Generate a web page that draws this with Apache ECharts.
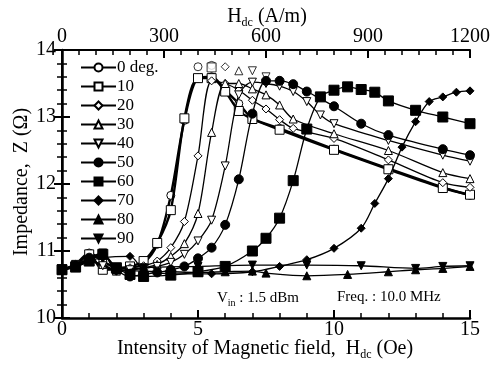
<!DOCTYPE html>
<html>
<head>
<meta charset="utf-8">
<script src="https://cdn.jsdelivr.net/npm/echarts@6/dist/echarts.min.js"></script>
<style>
  html, body { margin: 0; padding: 0; background: #fff; }
  #chart { width: 493px; height: 367px; }
</style>
</head>
<body>
<div id="chart"></div>
<script>
// impedance Z (ohm) vs Hdc (Oe), one array per angle (points on the fitted curve)
const deg0 = [[0,10.72],[0.5,10.8],[1,10.97],[1.5,10.85],[2,10.75],[2.5,10.75],[3,10.82],[3.5,11.1],[4,11.83],[4.5,12.95],[5,13.58],[5.5,13.6],[6,13.4],[6.5,13.2],[7,12.98],[8,12.83],[10,12.52],[12,12.23],[14,11.95],[15,11.83]];
const deg10 = [[0,10.72],[0.5,10.78],[1,10.95],[1.5,10.72],[2,10.73],[2.5,10.77],[3,10.85],[3.5,11.12],[4,11.61],[4.5,12.98],[5,13.58],[5.5,13.58],[6,13.38],[6.5,13.09],[7,12.97],[8,12.81],[10,12.51],[12,12.22],[14,11.94],[15,11.84]];
const deg20 = [[0,10.72],[0.5,10.8],[1,10.85],[1.5,10.8],[2,10.72],[2.5,10.75],[3,10.78],[3.5,10.85],[4,11.05],[4.5,11.44],[5,12.42],[5.5,13.54],[6,13.5],[6.5,13.4],[7,13.25],[7.5,13.12],[8,12.96],[8.5,12.83],[10,12.68],[12,12.36],[14,12.02],[15,11.95]];
const deg30 = [[0,10.72],[0.5,10.78],[1,10.85],[1.5,10.8],[2,10.7],[2.5,10.72],[3,10.75],[3.5,10.8],[4,10.92],[4.5,11.11],[5,11.56],[5.5,12.77],[6,13.5],[6.5,13.5],[7,13.42],[7.5,13.33],[8,13.18],[8.5,12.97],[10,12.75],[12,12.5],[14,12.17],[15,12.08]];
const deg40 = [[0,10.72],[0.5,10.8],[1,10.85],[1.5,10.78],[2,10.7],[2.5,10.72],[3,10.74],[3.5,10.77],[4,10.83],[4.5,10.95],[5,11.15],[5.5,11.46],[6,12.27],[6.5,13.33],[7,13.52],[7.5,13.5],[8,13.46],[8.5,13.38],[9,13.23],[9.5,13.03],[10,12.9],[12,12.65],[14,12.43],[15,12.34]];
const deg50 = [[0,10.72],[0.5,10.78],[1,10.9],[1.5,10.95],[2,10.72],[2.5,10.62],[3,10.65],[3.5,10.68],[4,10.72],[4.5,10.77],[5,10.89],[5.5,11.05],[6,11.39],[6.5,12.07],[7,13.05],[7.5,13.54],[8,13.54],[8.5,13.49],[9,13.38],[10,13.16],[11,12.9],[12,12.73],[14,12.52],[15,12.43]];
const deg60 = [[0,10.72],[0.5,10.76],[1,10.85],[1.5,10.95],[2,10.75],[2.5,10.65],[3,10.62],[4,10.64],[5,10.69],[6,10.77],[7,11.0],[7.5,11.19],[8,11.49],[8.5,12.05],[9,12.82],[9.5,13.3],[10,13.4],[10.5,13.45],[11,13.41],[11.5,13.37],[12,13.24],[13,13.1],[14,13.0],[15,12.9]];
const deg70 = [[0,10.72],[0.5,10.76],[1,10.85],[1.5,10.9],[2.5,10.92],[3,10.72],[4,10.66],[5.5,10.66],[7,10.69],[8,10.77],[9,10.87],[10,11.04],[11,11.34],[11.5,11.71],[12,12.08],[12.5,12.55],[13,12.93],[13.5,13.23],[14,13.3],[14.5,13.37],[15,13.39]];
const deg80 = [[0,10.72],[0.5,10.78],[1,10.85],[1.5,10.97],[2,10.72],[3,10.7],[4,10.69],[5,10.68],[6,10.69],[7,10.7],[7.5,10.67],[9,10.63],[10.5,10.65],[12,10.69],[13,10.72],[14,10.74],[15,10.77]];
const deg90 = [[0,10.72],[0.5,10.78],[1.5,10.97],[2,10.7],[3,10.75],[5,10.77],[7,10.79],[9,10.79],[11,10.78],[13,10.74],[14,10.77],[15,10.78]];

// measured peak points that sit above the fitted curves
const peak0 = [[5,13.75],[5.5,13.77]];
const peak10 = [[5.5,13.74]];
const peak20 = [[6,13.75]];
const peak30 = [[6.5,13.69]];
const peak40 = [[7,13.69],[7.5,13.6]];

const seriesNames = ['0 deg.', '10', '20', '30', '40', '50', '60', '70', '80', '90'];
const seriesData = [deg0, deg10, deg20, deg30, deg40, deg50, deg60, deg70, deg80, deg90];
const peakData = [peak0, peak10, peak20, peak30, peak40];
const symbols = ['circle', 'rect', 'diamond', 'triangle', 'triangle', 'circle', 'rect', 'diamond', 'triangle', 'triangle'];
const filled = [false, false, false, false, false, true, true, true, true, true];
const sizes = [8, 9, 8, 8, 8, 9, 10, 8, 8, 8];
const rotations = [0, 0, 0, 0, 180, 0, 0, 0, 0, 180];

const FONT = 'Liberation Serif';

const chart = echarts.init(document.getElementById('chart'));

function markStyle(i) {
  return {
    color: filled[i] ? '#000' : '#fff',
    borderColor: '#000',
    borderWidth: 1,
  };
}

const series = seriesData.map((d, i) => ({
  name: seriesNames[i],
  type: 'line',
  data: d,
  smooth: 0.3,
  symbol: symbols[i],
  symbolSize: sizes[i],
  symbolRotate: rotations[i],
  showAllSymbol: true,
  lineStyle: { color: '#000', width: i < 2 ? 2.4 : 1.3 },
  itemStyle: markStyle(i),
  emphasis: { disabled: true },
  z: 2 + i,
}));

peakData.forEach((d, i) => {
  series.push({
    name: seriesNames[i],
    type: 'scatter',
    data: d,
    symbol: symbols[i],
    symbolSize: sizes[i],
    symbolRotate: rotations[i],
    itemStyle: markStyle(i),
    emphasis: { disabled: true },
    z: 2 + i,
  });
});

const option = {
  animation: false,
  backgroundColor: '#fff',
  grid: { left: 62, right: 22, top: 50, bottom: 49 },
  legend: {
    orient: 'vertical',
    left: 80,
    top: 59,
    padding: 0,
    itemWidth: 35,
    itemHeight: 10,
    itemGap: 2,
    data: seriesNames,
    textStyle: { fontFamily: FONT, fontSize: 17, color: '#000', lineHeight: 16, padding: [0, 0, 0, -4] },
  },
  xAxis: [
    {
      type: 'value',
      min: 0,
      max: 15,
      interval: 5,
      position: 'bottom',
      axisLine: { show: true, lineStyle: { color: '#000', width: 2.5 } },
      axisTick: { show: true, inside: true, length: 8, lineStyle: { color: '#000', width: 2 } },
      minorTick: { show: true, splitNumber: 5, length: 5, lineStyle: { color: '#000', width: 1.5 } },
      axisLabel: { fontFamily: FONT, fontSize: 20, color: '#000', margin: 2 },
      splitLine: { show: false },
    },
    {
      type: 'value',
      min: 0,
      max: 1200,
      interval: 300,
      position: 'top',
      axisLine: { show: true, lineStyle: { color: '#000', width: 2 } },
      axisTick: { show: true, inside: true, length: 8, lineStyle: { color: '#000', width: 2 } },
      minorTick: { show: true, splitNumber: 6, length: 5, lineStyle: { color: '#000', width: 1.5 } },
      axisLabel: { fontFamily: FONT, fontSize: 20, color: '#000', margin: 3, formatter: v => String(v) },
      splitLine: { show: false },
    },
  ],
  yAxis: [
    {
      type: 'value',
      min: 10,
      max: 14,
      interval: 1,
      position: 'left',
      axisLine: { show: true, lineStyle: { color: '#000', width: 2.5 } },
      axisTick: { show: true, inside: true, length: 8, lineStyle: { color: '#000', width: 2 } },
      minorTick: { show: true, splitNumber: 5, length: 5, lineStyle: { color: '#000', width: 1.5 } },
      axisLabel: { fontFamily: FONT, fontSize: 20, color: '#000', margin: 6 },
      splitLine: { show: false },
    },
    {
      type: 'value',
      min: 10,
      max: 14,
      interval: 1,
      position: 'right',
      axisLine: { show: true, lineStyle: { color: '#000', width: 2 } },
      axisTick: { show: true, inside: true, length: 8, lineStyle: { color: '#000', width: 2 } },
      minorTick: { show: true, splitNumber: 5, length: 5, lineStyle: { color: '#000', width: 1.5 } },
      axisLabel: { show: false },
      splitLine: { show: false },
    },
  ],
  graphic: [
    {
      type: 'text',
      x: 267, y: 17,
      style: {
        text: '{n|H}{s|dc}{n| (A/m)}',
        x: 0, y: 0,
        align: 'center', verticalAlign: 'middle',
        rich: {
          n: { fontFamily: FONT, fontSize: 20, color: '#000' },
          s: { fontFamily: FONT, fontSize: 12, color: '#000', padding: [12, 0, 0, 0] },
        },
      },
    },
    {
      type: 'text',
      x: 265, y: 349,
      style: {
        text: '{n|Intensity of Magnetic field,  H}{s|dc}{n| (Oe)}',
        x: 0, y: 0,
        align: 'center', verticalAlign: 'middle',
        rich: {
          n: { fontFamily: FONT, fontSize: 20, color: '#000' },
          s: { fontFamily: FONT, fontSize: 12, color: '#000', padding: [12, 0, 0, 0] },
        },
      },
    },
    {
      type: 'text',
      x: 22, y: 182,
      rotation: Math.PI / 2,
      style: {
        text: 'Impedance,  Z (Ω)',
        x: 0, y: 0,
        align: 'center', verticalAlign: 'middle',
        fontFamily: FONT, fontSize: 20, fill: '#000',
      },
    },
    {
      type: 'text',
      x: 217, y: 298,
      style: {
        text: '{n|V}{s|in}{n| : 1.5 dBm}',
        x: 0, y: 0,
        align: 'left', verticalAlign: 'middle',
        rich: {
          n: { fontFamily: FONT, fontSize: 15, color: '#000' },
          s: { fontFamily: FONT, fontSize: 10, color: '#000', padding: [10, 0, 0, 0] },
        },
      },
    },
    {
      type: 'text',
      x: 337, y: 297,
      style: {
        text: 'Freq. : 10.0 MHz',
        x: 0, y: 0,
        align: 'left', verticalAlign: 'middle',
        fontFamily: FONT, fontSize: 15, fill: '#000',
      },
    },
  ],
  series: series,
};

chart.setOption(option);
</script>
</body>
</html>
